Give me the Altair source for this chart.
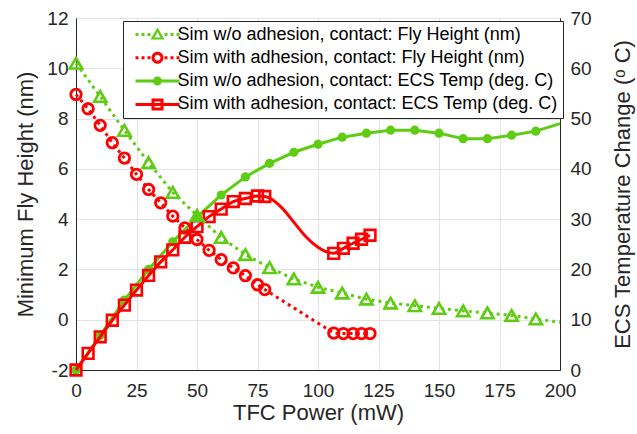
import altair as alt
import pandas as pd

GREEN = "#5ECC12"
RED = "#FF0000"
FONT = "Liberation Sans"

labels = [
    "Sim w/o adhesion, contact: Fly Height (nm)",
    "Sim with adhesion, contact: Fly Height (nm)",
    "Sim w/o adhesion, contact: ECS Temp (deg. C)",
    "Sim with adhesion, contact: ECS Temp (deg. C)",
]

# Fly height, no adhesion (left axis)
fh_wo_x = [0, 10, 20, 30, 40, 50, 60, 70, 80, 90, 100, 110, 120, 130, 140, 150, 160, 170, 180, 190, 200]
fh_wo_y = [10.2, 8.88, 7.53, 6.25, 5.06, 4.15, 3.27, 2.59, 2.07, 1.62, 1.29, 1.06, 0.82, 0.66, 0.56,
           0.45, 0.35, 0.27, 0.17, 0.03, -0.1]
fh_wo_m = [True] * 20 + [False]

# Fly height, with adhesion (left axis)
fh_adh_x = [0, 5, 10, 15, 20, 25, 30, 35, 40, 45, 50, 55, 60, 65, 70, 75, 78,
            106.5, 110.5, 114.5, 118, 121.5]
fh_adh_y = [8.96, 8.39, 7.73, 7.04, 6.43, 5.78, 5.18, 4.65, 4.12, 3.65, 3.19, 2.76, 2.39, 2.06, 1.75,
            1.39, 1.2, -0.53, -0.55, -0.55, -0.55, -0.55]
fh_adh_m = [True] * 22

# ECS temperature, no adhesion (right axis)
ecs_wo_x = [0, 10, 20, 30, 40, 50, 60, 70, 80, 90, 100, 110, 120, 130, 140, 150, 160, 170, 180, 190, 200]
ecs_wo_y = [0, 6.9, 13.9, 20.0, 25.5, 30.4, 34.8, 38.4, 41.1, 43.3, 44.9, 46.3, 47.1, 47.7, 47.7,
            47.1, 46.0, 46.0, 46.7, 47.5, 49.0]
ecs_wo_m = [True] * 20 + [False]

# ECS temperature, with adhesion (right axis)
ecs_adh_x = [0, 5, 10, 15, 20, 25, 30, 35, 40, 45, 50, 55, 60, 65, 70, 75, 78,
             80, 85, 90, 95, 100, 103,
             106.5, 110.5, 114.5, 118, 121.5]
ecs_adh_y = [0, 3.3, 6.6, 9.9, 12.9, 15.9, 18.8, 21.5, 23.9, 26.4, 28.5, 30.5, 32.0, 33.5, 34.1, 34.6, 34.5,
             34.2, 32.3, 29.4, 26.5, 24.4, 23.6,
             23.2, 24.2, 25.2, 26.0, 26.8]
ecs_adh_m = [True] * 17 + [False] * 6 + [True] * 5


def frame(xs, ys, ms, label):
    return pd.DataFrame({"x": xs, "y": ys, "m": ms, "series": label})


df_fh_wo = frame(fh_wo_x, fh_wo_y, fh_wo_m, labels[0])
df_fh_adh = frame(fh_adh_x, fh_adh_y, fh_adh_m, labels[1])
df_ecs_wo = frame(ecs_wo_x, ecs_wo_y, ecs_wo_m, labels[2])
df_ecs_adh = frame(ecs_adh_x, ecs_adh_y, ecs_adh_m, labels[3])

# legend symbols (custom paths, 1 unit = 1 px with symbolSize 4)
dots = ("M-22,-1.5h3v3h-3zM-16,-1.5h3v3h-3zM-10,-1.5h3v3h-3z"
        "M7,-1.5h3v3h-3zM13,-1.5h3v3h-3zM19,-1.5h3v3h-3z")
p_tri = dots + "M0,-7L7,5L-7,5ZM0,-2.5L-3,3L3,3Z"
p_circ = dots + "M-6,0A6 6 0 1 1 6,0A6 6 0 1 1 -6,0ZM-3,0A3 3 0 1 0 3,0A3 3 0 1 0 -3,0Z"
solid = "M-22,-1.5H22V1.5H-22Z"
p_dot = solid + "M-4.5,0A4.5 4.5 0 1 1 4.5,0A4.5 4.5 0 1 1 -4.5,0Z"
p_sq = solid + "M-6,-6H6V6H-6ZM-3,-3V3H3V-3Z"

color_scale = alt.Scale(domain=labels, range=[GREEN, RED, GREEN, RED])
shape_scale = alt.Scale(domain=labels, range=[p_tri, p_circ, p_dot, p_sq])

hyphen_minus = "datum.value < 0 ? '-' + abs(datum.value) : '' + datum.value"

x_enc = alt.X(
    "x:Q",
    scale=alt.Scale(domain=[0, 200], nice=False),
    axis=alt.Axis(
        values=[0, 25, 50, 75, 100, 125, 150, 175, 200],
        title="TFC Power (mW)",
        grid=True,
        ticks=False,
        labelFlush=False,
        labelPadding=11,
        titleX=242,
        titleY=42,
        titleBaseline="middle",
        titleAlign="center",
    ),
)

y_left = alt.Y(
    "y:Q",
    scale=alt.Scale(domain=[-2, 12], nice=False),
    axis=alt.Axis(
        values=[-2, 0, 2, 4, 6, 8, 10, 12],
        labelExpr=hyphen_minus,
        title="Minimum Fly Height (nm)",
        orient="left",
        grid=True,
        ticks=False,
        labelFlush=False,
        labelPadding=8,
        titleX=-51,
        titleY=176,
        titleAngle=270,
        titleBaseline="middle",
        titleAlign="center",
    ),
)

y_right = alt.Y(
    "y:Q",
    scale=alt.Scale(domain=[0, 70], nice=False),
    axis=alt.Axis(
        values=[0, 10, 20, 30, 40, 50, 60, 70],
        title="ECS Temperature Change (\u1d52 C)",
        orient="right",
        grid=False,
        ticks=False,
        labelFlush=False,
        labelPadding=10,
        titleX=62,
        titleY=176,
        titleAngle=270,
        titleBaseline="middle",
        titleAlign="center",
    ),
)

marker_only = alt.datum.m == True
G = alt.value(GREEN)
R = alt.value(RED)

# left-axis layers
fh_wo_line = alt.Chart(df_fh_wo).mark_line(strokeWidth=3, strokeDash=[3, 4]).encode(
    x=x_enc, y=y_left, color=G)
fh_wo_pts = alt.Chart(df_fh_wo).transform_filter(marker_only).mark_point(
    shape="triangle-up", size=150, filled=False, strokeWidth=2.6, opacity=1).encode(
    x=x_enc, y=y_left, color=G)
fh_adh_line = alt.Chart(df_fh_adh).mark_line(strokeWidth=3, strokeDash=[3, 4]).encode(
    x=x_enc, y=y_left, color=R)
fh_adh_pts = alt.Chart(df_fh_adh).transform_filter(marker_only).mark_point(
    shape="circle", size=110, filled=False, strokeWidth=2.8, opacity=1).encode(
    x=x_enc, y=y_left, color=R)

legend_def = alt.Legend(
    title=None,
    orient="none",
    legendX=47,
    legendY=3,
    padding=4.5,
    strokeColor="#262626",
    fillColor="white",
    cornerRadius=0,
    labelFont=FONT,
    labelFontSize=18,
    labelColor="#000000",
    labelLimit=800,
    labelOffset=11,
    symbolOffset=21,
    symbolSize=4,
    symbolStrokeWidth=0,
    symbolOpacity=1,
    rowPadding=5.3,
)

legend_layer = alt.Chart(df_fh_wo).transform_filter("false").mark_point(
    filled=True, opacity=1, strokeWidth=0).encode(
    x=x_enc,
    y=y_left,
    color=alt.Color("series:N", scale=color_scale, legend=legend_def),
    shape=alt.Shape("series:N", scale=shape_scale, legend=legend_def),
)

left = alt.layer(fh_wo_line, fh_adh_line, fh_wo_pts, fh_adh_pts, legend_layer)

# right-axis layers
ecs_wo_line = alt.Chart(df_ecs_wo).mark_line(strokeWidth=3).encode(
    x=x_enc, y=y_right, color=G)
ecs_wo_pts = alt.Chart(df_ecs_wo).transform_filter(marker_only).mark_point(
    shape="circle", size=85, filled=True, strokeWidth=0, opacity=1).encode(
    x=x_enc, y=y_right, color=G)
ecs_adh_line = alt.Chart(df_ecs_adh).mark_line(strokeWidth=3, interpolate="monotone").encode(
    x=x_enc, y=y_right, color=R)
ecs_adh_pts = alt.Chart(df_ecs_adh).transform_filter(marker_only).mark_point(
    shape="square", size=115, filled=False, strokeWidth=2.6, opacity=1).encode(
    x=x_enc, y=y_right, color=R)

right = alt.layer(ecs_wo_line, ecs_wo_pts, ecs_adh_line, ecs_adh_pts)

chart = (
    alt.layer(right, left)
    .resolve_scale(y="independent")
    .properties(
        width=484,
        height=352,
        background="white",
        autosize=alt.AutoSizeParams(type="none"),
        padding={"left": 76, "top": 18, "right": 77, "bottom": 64},
    )
    .configure_view(stroke="#262626", strokeWidth=1)
    .configure_axis(
        domainColor="#262626",
        domainWidth=1,
        gridColor="#E3E3E3",
        gridWidth=1,
        labelFont=FONT,
        labelFontSize=19,
        labelColor="#262626",
        titleFont=FONT,
        titleFontSize=22,
        titleFontWeight="normal",
        titleColor="#262626",
    )
)

chart.save("out.html", embed_options={"renderer": "svg", "actions": False})
